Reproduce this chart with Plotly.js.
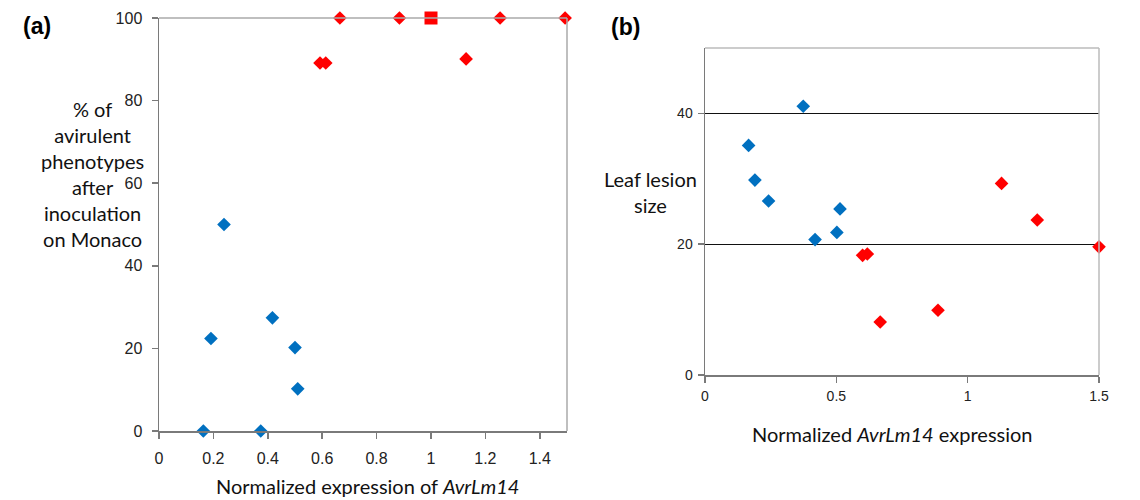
<!DOCTYPE html>
<html><head><meta charset="utf-8">
<script src="https://cdn.plot.ly/plotly-3.0.1.min.js"></script>
<style>html,body{margin:0;padding:0;background:#fff}#chart{width:1140px;height:500px}</style>
</head><body><div id="chart"></div>
<script>
// Panel (a): % avirulent phenotypes vs normalized AvrLm14 expression
const aBlueX = [0.163, 0.191, 0.239, 0.374, 0.417, 0.500, 0.510];
const aBlueY = [0, 22.4, 50.0, 0, 27.4, 20.2, 10.2];
const aRedX = [0.592, 0.613, 0.665, 0.884, 1.129, 1.254, 1.493];
const aRedY = [89.1, 89.1, 100, 100, 90.1, 100, 100];
const aSquareX = [1.0];
const aSquareY = [100];
// Panel (b): leaf lesion size vs normalized AvrLm14 expression
const bBlueX = [0.166, 0.190, 0.242, 0.374, 0.419, 0.502, 0.514];
const bBlueY = [35.1, 29.8, 26.6, 41.1, 20.7, 21.8, 25.4];
const bRedX = [0.600, 0.618, 0.667, 0.887, 1.129, 1.265, 1.500];
const bRedY = [18.3, 18.5, 8.1, 9.9, 29.3, 23.7, 19.6];
const aXTicks = [0, 0.2, 0.4, 0.6, 0.8, 1, 1.2, 1.4];
const aYTicks = [0, 20, 40, 60, 80, 100];
const bXTicks = [0, 0.5, 1, 1.5];
const bYTicks = [0, 20, 40];

const BLUE = '#0070C0', RED = '#FF0000';
const tickFontA = {family: 'Liberation Sans, Arial, sans-serif', size: 16, color: '#222'};
const tickFontB = {family: 'Liberation Sans, Arial, sans-serif', size: 14, color: '#222'};
const titleFont = {family: 'Lato, Calibri, sans-serif', size: 20, color: '#111'};

const traces = [
  {x: aBlueX, y: aBlueY, xaxis: 'x', yaxis: 'y', mode: 'markers', type: 'scatter', cliponaxis: false,
   marker: {symbol: 'diamond', size: 10.5, color: BLUE}},
  {x: aRedX, y: aRedY, xaxis: 'x', yaxis: 'y', mode: 'markers', type: 'scatter', cliponaxis: false,
   marker: {symbol: 'diamond', size: 10.5, color: RED}},
  {x: aSquareX, y: aSquareY, xaxis: 'x', yaxis: 'y', mode: 'markers', type: 'scatter', cliponaxis: false,
   marker: {symbol: 'square', size: 13, color: RED}},
  {x: bBlueX, y: bBlueY, xaxis: 'x2', yaxis: 'y2', mode: 'markers', type: 'scatter', cliponaxis: false,
   marker: {symbol: 'diamond', size: 10.5, color: BLUE}},
  {x: bRedX, y: bRedY, xaxis: 'x2', yaxis: 'y2', mode: 'markers', type: 'scatter', cliponaxis: false,
   marker: {symbol: 'diamond', size: 10.5, color: RED}}
];

const axBase = {showgrid: false, zeroline: false, showline: true, linecolor: '#7a7a7a', linewidth: 1.5,
  ticks: 'outside', ticklen: 6, tickwidth: 1.5, tickcolor: '#7a7a7a', fixedrange: true};

const W = 1140, H = 500;
const layout = {
  width: W, height: H, showlegend: false,
  paper_bgcolor: '#fff', plot_bgcolor: '#fff',
  margin: {l: 0, r: 0, t: 0, b: 0},
  xaxis: Object.assign({}, axBase, {domain: [159/W, 567/W], range: [0, 1.5], tickvals: aXTicks,
    ticktext: aXTicks.map(String), anchor: 'y', ticklabelstandoff: 6, tickfont: tickFontA}),
  yaxis: Object.assign({}, axBase, {domain: [1-431/H, 1-18/H], range: [0, 100], tickvals: aYTicks,
    anchor: 'x', ticklabelstandoff: 6, tickfont: tickFontA}),
  xaxis2: Object.assign({}, axBase, {domain: [705/W, 1099/W], range: [0, 1.5], tickvals: bXTicks,
    ticktext: bXTicks.map(String), anchor: 'y2', ticklabelstandoff: 2, tickfont: tickFontB}),
  yaxis2: Object.assign({}, axBase, {domain: [1-375/H, 1-48/H], range: [0, 50], tickvals: bYTicks,
    anchor: 'x2', ticklabelstandoff: 2, tickfont: tickFontB, showgrid: true, gridcolor: '#111', gridwidth: 1.2}),
  shapes: [
    {type: 'line', xref: 'x domain', yref: 'y domain', x0: 0, x1: 1, y0: 1, y1: 1, line: {color: '#aaa', width: 1.5}},
    {type: 'line', xref: 'x domain', yref: 'y domain', x0: 1, x1: 1, y0: 0, y1: 1, line: {color: '#aaa', width: 1.5}},
    {type: 'line', xref: 'x2 domain', yref: 'y2 domain', x0: 0, x1: 1, y0: 1, y1: 1, line: {color: '#bbb', width: 1.5}},
    {type: 'line', xref: 'x2 domain', yref: 'y2 domain', x0: 1, x1: 1, y0: 0, y1: 1, line: {color: '#bbb', width: 1.5}}
  ],
  annotations: [
    {text: '<b>(a)</b>', xref: 'paper', yref: 'paper', x: 37/W, y: 1-26/H, xanchor: 'center', yanchor: 'middle',
     showarrow: false, font: {family: 'Liberation Sans, Arial, sans-serif', size: 23, color: '#000'}},
    {text: '<b>(b)</b>', xref: 'paper', yref: 'paper', x: 625/W, y: 1-27/H, xanchor: 'center', yanchor: 'middle',
     showarrow: false, font: {family: 'Liberation Sans, Arial, sans-serif', size: 23, color: '#000'}},
    {text: '% of<br>avirulent<br>phenotypes<br>after<br>inoculation<br>on Monaco', xref: 'paper', yref: 'paper',
     x: 92/W, y: 1-174/H, xanchor: 'center', yanchor: 'middle', align: 'center', showarrow: false, font: titleFont},
    {text: 'Normalized expression of <i>AvrLm14</i>', xref: 'paper', yref: 'paper',
     x: 367/W, y: 1-486/H, xanchor: 'center', yanchor: 'middle', showarrow: false, font: titleFont},
    {text: 'Leaf lesion<br>size', xref: 'paper', yref: 'paper',
     x: 650/W, y: 1-192/H, xanchor: 'center', yanchor: 'middle', align: 'center', showarrow: false, font: titleFont},
    {text: 'Normalized <i>AvrLm14</i> expression', xref: 'paper', yref: 'paper',
     x: 892/W, y: 1-434/H, xanchor: 'center', yanchor: 'middle', showarrow: false, font: titleFont}
  ]
};
Plotly.newPlot('chart', traces, layout, {displayModeBar: false, staticPlot: true});
</script></body></html>
